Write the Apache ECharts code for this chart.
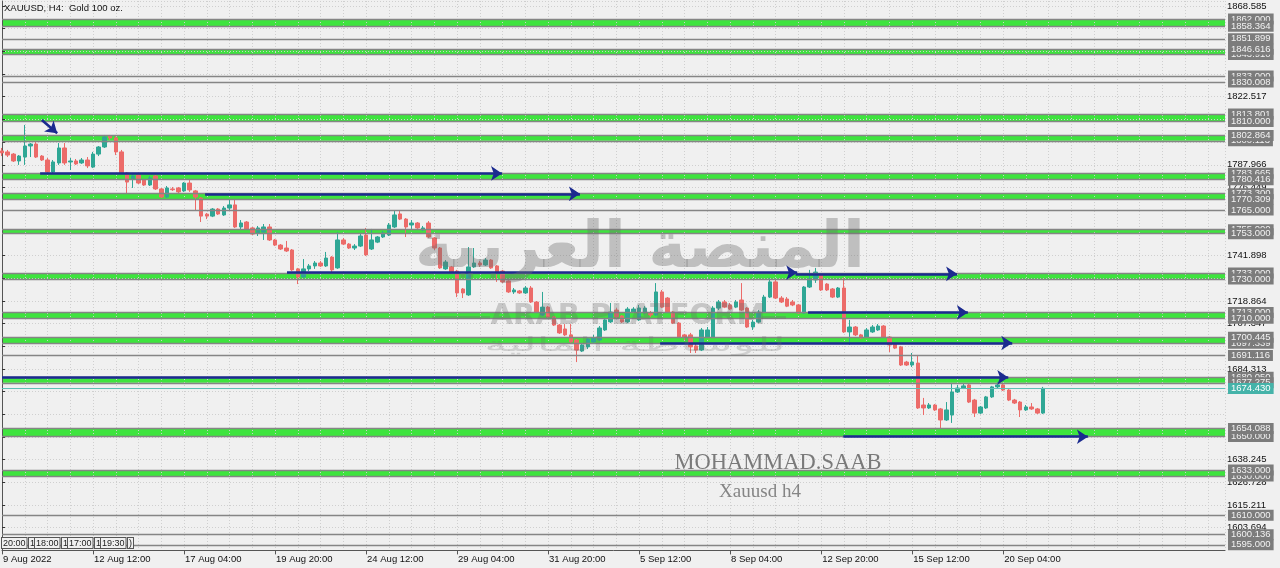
<!DOCTYPE html>
<html><head><meta charset="utf-8">
<script src="https://cdn.jsdelivr.net/npm/echarts@6/dist/echarts.min.js"></script>
<style>html,body{margin:0;padding:0;background:#f0f0f0}#c{width:1280px;height:568px}</style>
</head><body><div id="c"></div><script>
const FONT = '"Liberation Sans", Arial, sans-serif';

// ---- time axis ----
const barSlots = 216;                  // visible bar slots (incl. empty right margin)
const xTickIndex = [0,16,32,48,64,80,96,112,128,144,160,176];
const xTickLabels = ['9 Aug 2022','12 Aug 12:00','17 Aug 04:00','19 Aug 20:00','24 Aug 12:00','29 Aug 04:00','31 Aug 20:00','5 Sep 12:00','8 Sep 04:00','12 Sep 20:00','15 Sep 12:00','20 Sep 04:00'];

// ---- price axis ----
const yMin = 1592.177, yMax = 1871.124, yStep = 11.517;
const yTickShown = ['1868.585','1822.517','1787.966','1776.449','1741.898','1718.864','1707.347','1684.313','1672.796','1638.245','1626.728','1615.211','1603.694'];

// ---- candles: open, high, low, close (H4) ----
const ohlc = [
[1795.0,1796.5,1792.4,1794.0],[1794.5,1795.5,1791.9,1792.9],[1793.4,1793.9,1789.4,1789.9],[1789.9,1792.9,1787.9,1792.4],
[1791.9,1808.2,1787.9,1797.5],[1797.5,1799.0,1791.9,1798.5],[1798.5,1799.5,1791.4,1791.9],[1792.4,1792.9,1789.9,1790.4],
[1790.4,1791.4,1783.8,1784.3],[1784.3,1790.4,1783.8,1789.4],[1788.9,1799.0,1787.9,1796.5],[1796.5,1799.0,1787.9,1788.9],
[1789.4,1791.4,1785.3,1789.9],[1789.9,1790.9,1787.9,1788.4],[1788.9,1791.4,1788.4,1790.4],[1790.4,1791.9,1786.3,1787.4],
[1786.8,1794.5,1786.3,1793.4],[1793.4,1797.5,1792.4,1797.0],[1797.0,1803.1,1796.5,1802.1],[1802.6,1803.1,1800.6,1801.6],
[1801.6,1802.6,1792.9,1794.5],[1794.5,1795.5,1783.3,1783.8],[1783.8,1784.3,1773.6,1779.2],[1780.7,1783.8,1776.2,1782.3],
[1782.8,1783.3,1778.2,1778.7],[1780.2,1780.7,1777.2,1777.7],[1777.7,1782.3,1777.2,1781.3],[1782.3,1782.8,1775.2,1775.7],
[1775.7,1776.2,1771.1,1771.6],[1771.6,1777.2,1771.1,1776.2],[1775.7,1776.7,1774.7,1775.3],[1776.2,1776.7,1773.6,1774.2],
[1774.7,1779.2,1774.2,1778.7],[1778.7,1780.2,1774.2,1775.2],[1774.7,1775.2,1765.0,1771.6],[1771.1,1771.6,1758.9,1761.9],
[1762.9,1763.5,1760.4,1761.9],[1761.9,1766.0,1761.4,1765.5],[1765.5,1766.0,1762.5,1763.0],[1762.5,1767.0,1762.0,1766.0],
[1766.0,1770.1,1765.0,1767.6],[1767.6,1770.1,1755.9,1756.4],[1756.4,1759.9,1754.9,1758.4],[1758.9,1759.4,1754.9,1755.4],
[1755.9,1756.4,1752.3,1752.8],[1753.3,1756.9,1751.8,1755.9],[1753.8,1757.9,1749.8,1756.4],[1756.4,1757.9,1749.3,1749.8],
[1749.8,1750.3,1746.7,1747.2],[1747.2,1747.7,1744.7,1745.2],[1745.7,1749.3,1743.7,1744.2],[1744.7,1745.2,1734.0,1734.6],
[1735.1,1735.6,1727.4,1731.0],[1731.0,1740.1,1730.5,1735.1],[1735.1,1737.6,1734.0,1736.6],[1736.6,1739.1,1735.1,1738.1],
[1738.1,1739.1,1736.1,1736.6],[1736.6,1743.7,1736.1,1740.6],[1741.1,1741.6,1733.5,1734.6],[1735.6,1753.8,1735.1,1749.8],
[1749.8,1750.8,1747.2,1747.7],[1747.7,1748.2,1745.2,1745.7],[1745.7,1747.7,1744.7,1746.7],[1746.7,1752.8,1746.2,1751.8],
[1752.3,1755.9,1741.7,1742.2],[1745.2,1755.4,1744.7,1749.8],[1748.7,1751.8,1748.2,1751.3],[1751.3,1754.3,1750.8,1753.3],
[1752.3,1758.4,1751.8,1757.4],[1756.4,1765.0,1755.9,1762.5],[1763.0,1764.5,1759.9,1760.4],[1760.4,1760.9,1751.3,1756.4],
[1757.4,1759.9,1755.4,1758.4],[1758.4,1758.9,1755.4,1755.9],[1754.9,1756.9,1754.3,1755.9],[1758.4,1759.4,1750.8,1751.3],
[1750.8,1751.3,1744.7,1745.7],[1745.7,1746.2,1735.1,1735.6],[1735.1,1739.6,1734.6,1738.6],[1736.1,1736.6,1733.0,1733.5],
[1734.0,1734.6,1720.8,1722.9],[1724.9,1725.4,1720.3,1722.9],[1721.9,1746.2,1721.4,1736.1],[1736.1,1745.7,1735.6,1738.1],
[1738.1,1739.1,1736.1,1737.1],[1737.1,1740.6,1736.6,1739.6],[1739.6,1740.1,1735.1,1735.6],[1736.6,1737.1,1728.5,1733.5],
[1734.0,1734.6,1727.9,1728.5],[1729.0,1729.5,1722.9,1723.4],[1723.4,1725.4,1722.4,1724.4],[1723.9,1724.4,1722.4,1722.9],
[1722.9,1726.4,1722.4,1725.4],[1725.4,1726.4,1717.8,1718.3],[1718.3,1718.8,1712.7,1713.2],[1711.7,1723.4,1711.2,1715.7],
[1715.7,1716.2,1710.2,1710.7],[1710.7,1711.2,1706.1,1706.6],[1706.6,1707.1,1702.1,1702.6],[1704.6,1707.1,1701.0,1701.6],
[1701.6,1707.1,1697.5,1698.0],[1699.0,1699.5,1687.8,1693.9],[1693.4,1697.5,1692.9,1696.5],[1695.5,1700.5,1694.4,1699.5],
[1698.0,1701.6,1697.0,1700.0],[1699.0,1706.1,1698.5,1705.1],[1704.1,1710.2,1703.6,1709.2],[1708.2,1717.8,1707.6,1713.2],
[1714.2,1715.2,1710.2,1710.7],[1711.2,1711.7,1707.6,1708.2],[1708.2,1715.7,1707.6,1714.7],[1713.2,1715.7,1712.7,1714.7],
[1709.2,1716.8,1708.7,1715.2],[1713.2,1716.2,1712.2,1715.2],[1712.7,1713.7,1710.7,1711.7],[1711.7,1727.9,1711.2,1723.4],
[1723.4,1724.4,1715.2,1715.7],[1720.3,1720.8,1712.7,1713.2],[1713.2,1713.7,1707.1,1707.6],[1707.6,1708.1,1700.0,1700.5],
[1701.6,1702.1,1699.0,1700.5],[1701.6,1702.6,1692.4,1695.5],[1696.0,1697.0,1692.4,1693.9],[1693.9,1705.1,1693.4,1704.1],
[1700.5,1705.6,1700.0,1704.1],[1700.5,1716.2,1700.0,1715.2],[1715.2,1719.3,1714.2,1718.3],[1718.3,1719.3,1715.2,1715.7],
[1716.8,1717.8,1714.2,1714.7],[1715.7,1719.3,1715.2,1718.3],[1719.3,1727.9,1713.7,1714.2],[1715.2,1715.7,1705.1,1705.6],
[1705.6,1709.2,1704.1,1708.1],[1708.1,1714.2,1707.6,1713.2],[1713.2,1721.9,1712.7,1720.8],[1720.8,1730.5,1720.3,1728.5],
[1728.5,1729.5,1719.8,1720.3],[1720.3,1721.3,1717.8,1718.3],[1719.8,1720.8,1715.7,1716.2],[1718.3,1719.3,1716.2,1716.8],
[1716.8,1717.3,1712.2,1712.7],[1712.7,1726.4,1712.2,1725.9],[1725.9,1734.6,1725.4,1730.0],[1729.5,1735.6,1728.0,1733.5],
[1732.0,1733.0,1723.9,1724.4],[1727.4,1727.9,1723.9,1724.4],[1724.9,1725.4,1720.3,1720.8],[1720.8,1725.9,1720.3,1725.4],
[1725.4,1730.5,1702.6,1703.1],[1703.1,1709.2,1696.5,1705.6],[1705.6,1706.1,1701.0,1701.6],[1701.6,1702.1,1699.5,1700.0],
[1700.5,1705.1,1700.0,1704.1],[1703.1,1706.6,1702.6,1705.6],[1704.1,1707.1,1703.6,1706.1],[1706.1,1706.6,1700.0,1700.5],
[1700.5,1701.0,1692.9,1696.5],[1697.0,1697.5,1694.4,1694.9],[1695.5,1696.0,1685.8,1686.3],[1687.8,1688.4,1685.8,1686.3],
[1686.3,1692.4,1685.3,1687.8],[1687.3,1691.4,1664.0,1664.5],[1666.0,1669.6,1660.9,1664.5],[1664.5,1667.0,1664.0,1666.0],
[1666.0,1666.5,1663.0,1663.5],[1664.0,1664.5,1654.3,1658.4],[1658.4,1667.5,1657.9,1663.5],[1660.9,1677.2,1656.9,1672.6],
[1672.6,1676.2,1672.1,1674.6],[1674.6,1676.7,1674.1,1675.7],[1676.2,1676.7,1667.0,1667.5],[1668.5,1669.1,1659.9,1661.9],
[1661.9,1665.5,1661.4,1665.0],[1664.5,1670.6,1664.0,1670.1],[1670.1,1675.7,1669.6,1675.2],[1675.2,1677.7,1674.6,1676.2],
[1676.2,1676.7,1673.1,1673.6],[1673.6,1674.1,1668.0,1668.5],[1668.5,1669.1,1666.5,1667.0],[1667.5,1668.0,1659.9,1663.5],
[1663.5,1666.0,1663.0,1665.0],[1665.0,1667.0,1663.5,1664.0],[1664.0,1664.5,1661.4,1661.9],[1661.9,1675.2,1661.4,1674.43]
];

// ---- drawn objects ----
const bands = [[1862.000,1858.364],[1846.616,1843.910],[1813.801,1810.000],[1802.864,1800.113],[1783.665,1780.416],
  [1773.300,1770.309],[1755.000,1753.000],[1733.000,1730.000],[1713.000,1710.000],[1700.445,1697.339],
  [1680.050,1677.275],[1654.088,1650.000],[1633.000,1630.000]];
// price levels in drawing order (later ones cover earlier labels)
const levels = [1862.000,1858.364,1851.899,1843.910,1846.616,1833.000,1830.008,1813.801,1810.000,1800.113,1802.864,
  1783.665,1780.416,1773.300,1770.309,1765.000,1755.000,1753.000,1733.000,1730.000,1713.000,1710.000,
  1697.339,1700.445,1691.116,1680.050,1677.275,1650.000,1654.088,1630.000,1633.000,1610.000,1600.136,1595.000];
const bidPrice = 1674.430;
// arrows: [barFrom, priceFrom, barTo, priceTo]
const arrows = [[7.0,1810.7,9.7,1804.0],[6.7,1783.6,87.9,1783.6],[35.7,1773.2,101.6,1773.2],[50.1,1733.2,139.8,1733.2],
  [139.5,1732.6,167.9,1732.6],[141.7,1713.0,169.8,1713.0],[115.7,1697.5,177.6,1697.5],[0,1680.0,176.9,1680.0],
  [147.9,1649.9,190.9,1649.9]];
const vlineLabels = ['20:00','1','18:00','1','17:00','1','19:30',')'];

const categories = [];
for (let i = 0; i < barSlots; i++) categories.push('b' + i);
const candleData = ohlc.map(d => [d[0], d[3], d[2], d[1]]);

const chart = echarts.init(document.getElementById('c'), null, {renderer: 'canvas'});
const GRID = {left: 2, right: 55, top: 1, bottom: 17.6};
const labelBox = {
  show: true, position: 'end', distance: 3, fontFamily: FONT, fontSize: 9.5, color: '#f2f2f2',
  backgroundColor: '#7c7c7c', padding: [1, 3, 0, 3], lineHeight: 10,
  formatter: p => Number(p.data && p.data.yAxis != null ? p.data.yAxis : p.value).toFixed(3)
};

const vlGraphics = [];
(function () {
  let x = 2;
  vlineLabels.forEach(t => {
    vlGraphics.push({type: 'text', x: x, y: 538, z: 20, style: {text: t, font: '9px ' + FONT, fill: '#222',
      backgroundColor: '#f0f0f0', borderColor: '#555', borderWidth: 1, padding: [1, 1, 0, 1]}});
    x += t.length > 1 ? 27 : 6;
  });
})();

const option = {
  backgroundColor: '#f0f0f0',
  animation: false,
  grid: Object.assign({outerBoundsMode: 'none', containLabel: false}, GRID),
  xAxis: [{
    type: 'category', data: categories, boundaryGap: false, z: 2,
    axisLine: {show: true, lineStyle: {color: '#555', width: 1}},
    axisTick: {show: true, length: 4, interval: i => xTickIndex.includes(i), lineStyle: {color: '#555'}},
    axisLabel: {show: true, interval: i => xTickIndex.includes(i), align: 'left', margin: 4, padding: [0,0,0,1],
      fontFamily: FONT, fontSize: 9.5, color: '#111',
      formatter: (v, i) => { const k = xTickIndex.indexOf(i); return k >= 0 ? xTickLabels[k] : ''; }},
    splitLine: {show: false}
  }, {
    type: 'value', min: 0, max: barSlots - 1, interval: 4, show: true, z: 2,
    axisLine: {show: false}, axisTick: {show: false}, axisLabel: {show: false},
    splitLine: {show: true, lineStyle: {color: '#cfcfcf', type: [1, 2], width: 1}}
  }],
  yAxis: [{
    type: 'value', position: 'right', min: yMin, max: yMax, interval: yStep, z: 2, scale: true,
    axisLine: {show: true, lineStyle: {color: '#555', width: 1}},
    axisTick: {show: true, length: 3, lineStyle: {color: '#333'}},
    axisLabel: {show: true, margin: 2, fontFamily: FONT, fontSize: 9.5, color: '#111', showMinLabel: false, showMaxLabel: false,
      formatter: v => { const s = v.toFixed(3); return yTickShown.includes(s) ? s : ''; }},
    splitLine: {show: true, lineStyle: {color: '#cfcfcf', type: [1, 2], width: 1}}
  }],
  series: [
    { // rectangles
      type: 'line', data: [], z: 1, xAxisIndex: 0, yAxisIndex: 0, silent: true,
      markArea: {silent: true, z: 1, itemStyle: {color: '#3ee43e', opacity: 1},
        data: bands.map(b => [{yAxis: b[0]}, {yAxis: b[1]}])}
    },
    {
      type: 'candlestick', name: 'XAUUSD', data: candleData, z: 3, barWidth: 4, clip: false,
      xAxisIndex: 0, yAxisIndex: 0,
      itemStyle: {color: '#2fa795', color0: '#ec6b69', borderColor: '#2fa795', borderColor0: '#ec6b69', borderWidth: 1}
    },
    { // horizontal price lines with price boxes
      type: 'line', data: [], z: 4, xAxisIndex: 0, yAxisIndex: 0, silent: true,
      markLine: {silent: true, symbol: 'none', animation: false, precision: 3,
        lineStyle: {color: '#858585', width: 1.3, type: 'solid'},
        label: labelBox,
        data: levels.map(v => ({yAxis: v}))}
    },
    { // bid line
      type: 'line', data: [], z: 5, xAxisIndex: 0, yAxisIndex: 0, silent: true,
      markLine: {silent: true, symbol: 'none', animation: false, precision: 3,
        lineStyle: {color: '#5cbfb6', width: 1, type: 'solid'},
        label: Object.assign({}, labelBox, {backgroundColor: '#45b3a9', color: '#ffffff'}),
        data: [{yAxis: bidPrice}]}
    },
    { // arrows
      type: 'lines', coordinateSystem: 'cartesian2d', xAxisIndex: 1, yAxisIndex: 0, z: 6, silent: true,
      symbol: ['none', 'arrow'], symbolSize: 11,
      lineStyle: {color: '#1b2a8f', width: 2.6, opacity: 1, curveness: 0},
      data: arrows.map(a => ({coords: [[a[0], a[1]], [a[2], a[3]]]}))
    }
  ],
  graphic: [
    {type: 'text', x: 4, y: 3, z: 20, style: {text: 'XAUUSD, H4:  Gold 100 oz.', font: '9.5px ' + FONT, fill: '#111'}},
    // watermark
    {type: 'text', x: 640, y: 282, z: 10, style: {text: 'المنصة العربية', font: 'bold 64px "DejaVu Sans"', fill: 'rgba(110,110,110,0.38)', textAlign: 'center', textVerticalAlign: 'bottom'}},
    {type: 'text', x: 628, y: 316, z: 10, style: {text: 'ARAB PLATFORM', font: 'bold 29px "DejaVu Sans"', fill: 'rgba(110,110,110,0.32)', textAlign: 'center', textVerticalAlign: 'middle'}},
    {type: 'rect', z: 10, shape: {x: 432, y: 316, width: 58, height: 3}, style: {fill: 'rgba(110,110,110,0.32)'}},
    {type: 'rect', z: 10, shape: {x: 762, y: 316, width: 24, height: 3}, style: {fill: 'rgba(110,110,110,0.32)'}},
    {type: 'text', x: 635, y: 346, z: 10, scaleX: 2.3, style: {text: 'للوساطة المالية', font: '20px "DejaVu Sans"', fill: 'rgba(110,110,110,0.25)', textAlign: 'center', textVerticalAlign: 'middle'}},
    // author texts
    {type: 'text', x: 778, y: 463, z: 20, style: {text: 'MOHAMMAD.SAAB', font: '22.5px "Liberation Serif"', fill: '#7a7a7a', textAlign: 'center', textVerticalAlign: 'middle'}},
    {type: 'text', x: 760, y: 492, z: 20, style: {text: 'Xauusd h4', font: '19px "Liberation Serif"', fill: '#858585', textAlign: 'center', textVerticalAlign: 'middle'}}
  ].concat(vlGraphics)
};
chart.setOption(option);
</script></body></html>
